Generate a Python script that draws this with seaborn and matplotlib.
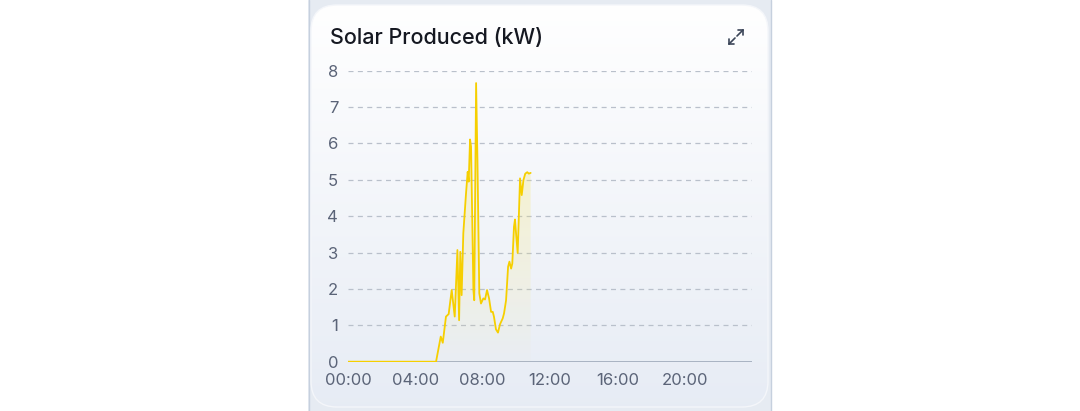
import numpy as np
import pandas as pd
import matplotlib
matplotlib.use("Agg")
import matplotlib.pyplot as plt
import seaborn as sns
from matplotlib.patches import FancyBboxPatch, Rectangle
from matplotlib.lines import Line2D

# data (hour of day, kW)
hours = [0.0, 5.23, 5.51, 5.63, 5.82, 5.98, 6.16, 6.34, 6.50, 6.60, 6.67, 6.75,
         6.85, 7.01, 7.11, 7.17, 7.25, 7.31, 7.45, 7.50, 7.61, 7.69, 7.80, 7.90,
         8.04, 8.14, 8.26, 8.38, 8.50, 8.60, 8.67, 8.79, 8.91, 9.03, 9.19, 9.27,
         9.39, 9.51, 9.59, 9.69, 9.76, 9.86, 9.92, 10.00, 10.08, 10.22, 10.32,
         10.42, 10.53, 10.65, 10.74, 10.85]
kw = [0.0, 0.0, 0.69, 0.52, 1.24, 1.31, 1.97, 1.24, 3.07, 1.14, 3.02, 1.83,
      3.53, 4.62, 5.22, 4.95, 6.11, 5.91, 1.97, 1.69, 7.66, 5.54, 1.88, 1.60,
      1.74, 1.71, 1.97, 1.74, 1.37, 1.37, 1.24, 0.89, 0.80, 1.03, 1.19, 1.33,
      1.69, 2.61, 2.75, 2.56, 2.70, 3.71, 3.91, 3.43, 2.99, 5.04, 4.58,
      4.99, 5.17, 5.21, 5.17, 5.19]
x_ticks = [0, 4, 8, 12, 16, 20]
x_labels = ["00:00", "04:00", "08:00", "12:00", "16:00", "20:00"]
y_ticks = [0, 1, 2, 3, 4, 5, 6, 7, 8]

df = pd.DataFrame({"hour": hours, "kw": kw})

sns.set_theme(style="white")
plt.rcParams["font.family"] = ["Inter", "DejaVu Sans"]

W, H = 1080, 411
fig = plt.figure(figsize=(W / 100, H / 100), dpi=100)
fig.patch.set_facecolor("white")

# background / card in pixel coordinates
bg = fig.add_axes([0, 0, 1, 1])
bg.axis("off")
bg.add_patch(Rectangle((308, 0), 463, H, facecolor="#e6ebf2", edgecolor="none",
                       zorder=0))
bg.add_line(Line2D([308.5, 308.5], [0, H], color="#c6d0de", linewidth=1.0, zorder=0.5))
bg.add_line(Line2D([770.5, 770.5], [0, H], color="#c6d0de", linewidth=1.0, zorder=0.5))
card = FancyBboxPatch((311, 5), 457, 402,
                      boxstyle="round,pad=0,rounding_size=26",
                      facecolor="none", edgecolor="#f4f6fa", linewidth=1.0,
                      zorder=2)
bg.add_patch(card)
grad = np.linspace(0, 1, 256)[:, None]
top = np.array([1.0, 1.0, 1.0])
bottom = np.array([0.905, 0.925, 0.96])
img = top + (bottom - top) * grad[..., None]
im = bg.imshow(np.repeat(img, 2, axis=1), extent=[311, 768, 407, 5],
               aspect="auto", zorder=1)
im.set_clip_path(card)
bg.set_xlim(0, W)
bg.set_ylim(H, 0)

bg.text(330, 38, "Solar Produced (kW)", fontsize=15.5, fontweight=500,
        color="#151821", va="center", ha="left", zorder=3)

# expand icon
ic = "#3b4558"
for seg in [((729, 44), (735, 38)), ((729, 44), (734, 44)), ((729, 44), (729, 39)),
            ((737, 36), (743, 30)), ((743, 30), (738, 30)), ((743, 30), (743, 35))]:
    (x0, y0), (x1, y1) = seg
    bg.add_line(Line2D([x0, x1], [y0, y1], color=ic, linewidth=1.2,
                       solid_capstyle="round", zorder=3))

# chart
ax = fig.add_axes([348 / W, (H - 361.7) / H, 404 / W, 291 / H])
ax.patch.set_alpha(0)
ax.set_xlim(0, 24)
ax.set_ylim(0, 8)

for y in y_ticks[1:]:
    ax.axhline(y, color="#b9c0cb", linewidth=0.9, linestyle=(0, (4, 3.5)), zorder=1)
ax.axhline(0, color="#a9b3c2", linewidth=1.4, zorder=1)

poly = ax.fill_between(df["hour"], df["kw"], 0, color="none", linewidth=0)
fy = np.linspace(0, 8, 256)[:, None]
fill = np.zeros((256, 2, 4))
fill[..., 0] = 0.97
fill[..., 1] = 0.90
fill[..., 2] = 0.40
fill[..., 3] = (0.02 + 0.05 * fy).repeat(2, axis=1)
fim = ax.imshow(fill, extent=[0, 24, 0, 8], origin="lower", aspect="auto", zorder=2)
fim.set_clip_path(poly.get_paths()[0], transform=ax.transData)

sns.lineplot(data=df, x="hour", y="kw", ax=ax, color="#f6cf00", linewidth=1.3,
             zorder=3)

ax.set_xlim(0, 24)
ax.set_ylim(0, 8)
ax.set_xticks(x_ticks)
ax.set_xticklabels(x_labels)
ax.set_yticks(y_ticks)
ax.set_yticklabels([str(v) for v in y_ticks])
ax.tick_params(axis="both", length=0, labelsize=12, colors="#5b6478")
ax.tick_params(axis="x", pad=8)
ax.tick_params(axis="y", pad=7)
ax.set_xlabel("")
ax.set_ylabel("")
for s in ax.spines.values():
    s.set_visible(False)

fig.savefig("out.png", dpi=100)
